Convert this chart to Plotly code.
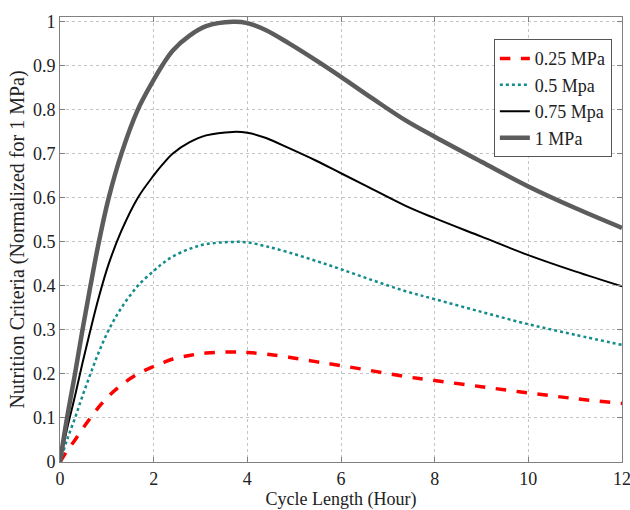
import plotly.graph_objects as go

# Cycle length (hours)
cycle_hours = [0, 0.15, 0.32, 0.48, 0.65, 0.83, 1.04, 1.31, 1.66, 2.0, 2.19, 2.41, 2.76,
               3.12, 3.69, 4.0, 4.4, 4.89, 5.46, 6.0, 6.67, 7.38, 8.0, 9.0, 10.0, 11.0, 12.0]

# Normalized nutrition criteria per pressure
p025 = [0, 0.025, 0.05, 0.075, 0.10, 0.125, 0.15, 0.175, 0.20, 0.217, 0.225, 0.234, 0.242,
        0.2475, 0.25, 0.249, 0.245, 0.238, 0.228, 0.219, 0.207, 0.194, 0.185, 0.171, 0.157,
        0.144, 0.133]
p050 = [0, 0.05, 0.10, 0.15, 0.20, 0.25, 0.30, 0.35, 0.40, 0.434, 0.451, 0.467, 0.484,
        0.495, 0.50, 0.499, 0.49, 0.476, 0.457, 0.438, 0.413, 0.388, 0.37, 0.341, 0.313,
        0.289, 0.266]
p075 = [0, 0.075, 0.15, 0.225, 0.30, 0.375, 0.45, 0.525, 0.60, 0.651, 0.676, 0.701, 0.726,
        0.742, 0.75, 0.748, 0.736, 0.713, 0.685, 0.656, 0.62, 0.582, 0.554, 0.512, 0.47,
        0.433, 0.399]
p100 = [0, 0.10, 0.20, 0.30, 0.40, 0.50, 0.60, 0.70, 0.80, 0.868, 0.902, 0.935, 0.968,
        0.99, 1.0, 0.997, 0.981, 0.951, 0.913, 0.875, 0.826, 0.776, 0.739, 0.682, 0.626,
        0.577, 0.532]

series_names = ["0.25 MPa", "0.5 Mpa", "0.75 Mpa", "1 MPa"]

x_ticks = [0, 2, 4, 6, 8, 10, 12]
x_ticktext = ["0", "2", "4", "6", "8", "10", "12"]
y_ticks = [0, 0.1, 0.2, 0.3, 0.4, 0.5, 0.6, 0.7, 0.8, 0.9, 1.0]
y_ticktext = ["0", "0.1", "0.2", "0.3", "0.4", "0.5", "0.6", "0.7", "0.8", "0.9", "1"]

FONT = "Liberation Serif"
TXT = "#222222"

fig = go.Figure()
styles = [
    dict(color="#ff0000", width=3.5, dash="dash"),
    dict(color="#148c8c", width=2.5, dash="dot"),
    dict(color="#000000", width=2, dash="solid"),
    dict(color="#5c5c5c", width=4.5, dash="solid"),
]
for name, ys, st in zip(series_names, [p025, p050, p075, p100], styles):
    fig.add_trace(go.Scatter(x=cycle_hours, y=ys, mode="lines", name=name,
                             line=dict(shape="spline", smoothing=1.0, **st)))

axis_common = dict(
    showline=True, linecolor="#808080", linewidth=1, mirror="allticks",
    ticks="inside", ticklen=5, tickcolor="#808080",
    showgrid=True, gridcolor="#c4c4c4", griddash="dot", gridwidth=1,
    zeroline=False, automargin=False, ticklabeloverflow="allow",
    tickfont=dict(family=FONT, size=18, color=TXT),
)

fig.update_layout(
    width=630, height=510,
    margin=dict(l=60, r=8, t=17, b=48),
    paper_bgcolor="white", plot_bgcolor="white",
    font=dict(family=FONT, size=16, color=TXT),
    xaxis=dict(range=[0, 12], tickvals=x_ticks, ticktext=x_ticktext,
               title=dict(text="Cycle Length (Hour)", standoff=14,
                          font=dict(family=FONT, size=18, color=TXT)),
               **axis_common),
    yaxis=dict(range=[0, 1.011], tickvals=y_ticks, ticktext=y_ticktext,
               title=dict(text="Nutrition Criteria (Normalized for 1 MPa)", standoff=2,
                          font=dict(family=FONT, size=20, color=TXT)),
               **axis_common),
    legend=dict(x=0.772, y=0.95, xanchor="left", yanchor="top",
                bgcolor="white", bordercolor="#555555", borderwidth=1,
                font=dict(family=FONT, size=18, color=TXT),
                tracegroupgap=0, itemwidth=30),
    showlegend=True,
)

fig.write_html("out.html", config={"displayModeBar": False},
               post_script="document.body.style.margin='0px';")
